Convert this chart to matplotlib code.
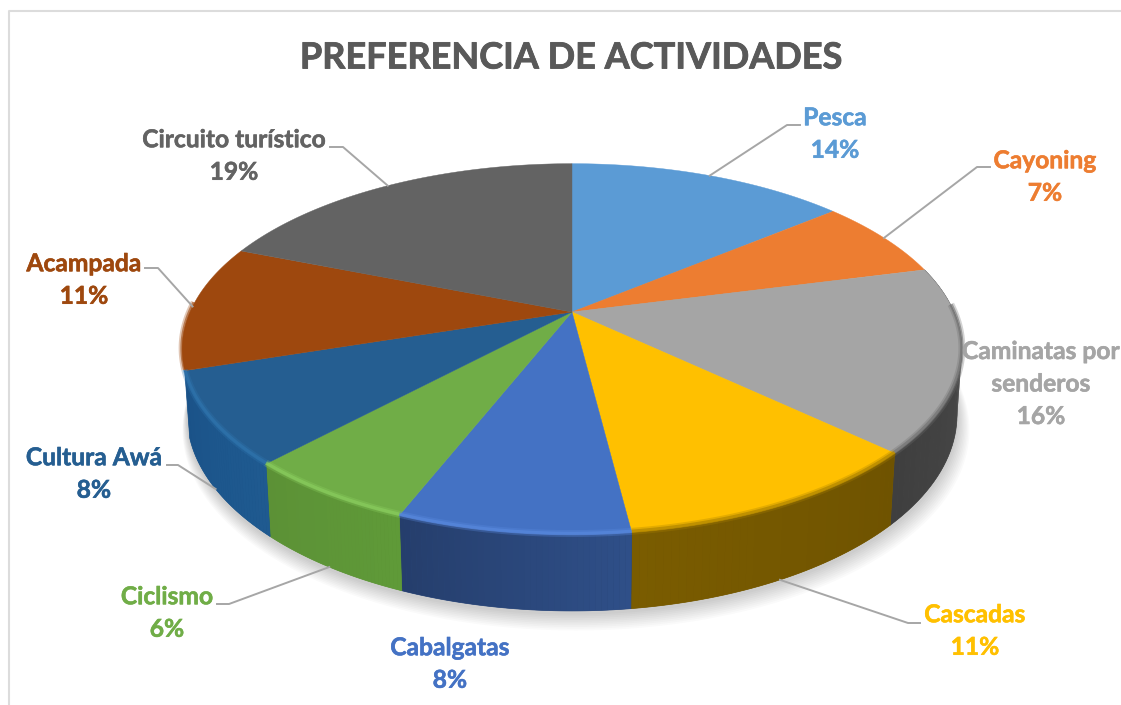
# -*- coding: utf-8 -*-
import numpy as np
import matplotlib
matplotlib.use('Agg')
import matplotlib.pyplot as plt
import matplotlib.patheffects as pe
from matplotlib.colors import to_rgb

# chart data, clockwise from 12 o'clock
activities = ['Pesca', 'Cayoning', 'Caminatas por\nsenderos', 'Cascadas', 'Cabalgatas',
              'Ciclismo', 'Cultura Awá', 'Acampada', 'Circuito turístico']
shares = [14, 7, 16, 11, 8, 6, 8, 11, 19]

top_colors = ['#5B9BD5', '#ED7D31', '#A5A5A5', '#FFC000', '#4472C4',
              '#70AD47', '#255E91', '#9E480E', '#636363']
rim_start = ['#3D6A92', '#A05520', '#4E4E4E', '#6F5300', '#2F4F88',
             '#5F9A38', '#1F5A90', '#6E3209', '#444444']
rim_end = ['#3D6A92', '#A05520', '#3F3F3F', '#7A5C00', '#253E6C',
           '#5C9136', '#1A5288', '#6E3209', '#444444']
edge_light = ['#5B9BD5', '#ED7D31', '#6E6E6E', '#A87F00', '#5A8AE0',
              '#8CD060', '#2F76B0', '#9E480E', '#636363']

# pie projection in pixels
cx, cy = 572, 312
rx, ry = 382, 178
persp = 0.2
depth = 64

# label position (pixels, centre of text), then leader elbow as (end, elbow)
label_xy = [(835, 134), (1045, 177), (1041, 384), (975, 631), (450, 664),
            (167, 613), (94, 474), (84, 280), (234, 156)]
leader_ends = [(800, 125), (990, 167), None, (920, 623), None,
               (217, 604), (167, 465), (145, 268), (330, 147)]
leader_elbows = [(787, 125), (977, 167), None, (908, 623), None,
                 (229, 604), (178, 465), (158, 268), (343, 147)]


def project(theta, z=0.0):
    # wall draws in a little towards its lower edge
    r = 1 - 0.012 * z
    u = r * np.sin(theta)
    v = r * np.cos(theta)
    w = 1 + persp * v
    return cx + rx * u / w, cy - ry * v / w + z * depth / w


def mix(c1, c2, t):
    a, b = np.array(to_rgb(c1)), np.array(to_rgb(c2))
    return tuple(a + (b - a) * t)


plt.rcParams['font.family'] = ['Lato', 'DejaVu Sans']
fig = plt.figure(figsize=(11.21, 7.05), dpi=100)
ax = fig.add_axes([0, 0, 1, 1])
ax.set_xlim(0, 1121)
ax.set_ylim(705, 0)
ax.axis('off')

# chart frame (only top and left show in the crop)
ax.plot([8.5, 8.5, 1121], [705, 10.5, 10.5], color='#DCDCDC', lw=1.5, zorder=1)

fracs = np.cumsum([0] + shares) / sum(shares)
angles = fracs * 2 * np.pi

# soft shadow under the pie
full = np.linspace(0, 2 * np.pi, 361)
sx, sy = project(full, z=1)
for i in range(10):
    grow = 1 + (10 - i) * 0.0022
    ax.fill(cx + (sx - cx) * grow + (10 - i) * 0.4, cy + 2 + (sy - cy) * grow + (10 - i) * 1.1,
            color='black', alpha=0.018, lw=0, zorder=2)

# side wall: solid base first, thin strips over it for the shading along the rim
for i in range(len(shares)):
    mid = (angles[i] + angles[i + 1]) / 2
    if np.cos(mid) >= 0:
        continue  # back of the pie, hidden
    t = np.linspace(angles[i], angles[i + 1], 41)
    x0, y0 = project(t)
    x1, y1 = project(t, z=1)
    ax.fill(np.r_[x0, x1[::-1]], np.r_[y0, y1[::-1]], color=mix(rim_start[i], rim_end[i], 0.5),
            lw=0.5, zorder=3)
    for j in range(40):
        col = mix(rim_start[i], rim_end[i], j / 39)
        xs = np.r_[x0[j:j + 2], x1[j:j + 2][::-1]]
        ys = np.r_[y0[j:j + 2], y1[j:j + 2][::-1]]
        ax.fill(xs, ys, color=col, lw=0, zorder=3)

# top face
for i in range(len(shares)):
    t = np.linspace(angles[i], angles[i + 1], 81)
    x, y = project(t)
    ax.fill(np.r_[cx, x], np.r_[cy, y], color=top_colors[i], lw=0.3, zorder=4)

# bevel along the front edge
for i in range(len(shares)):
    t = np.linspace(angles[i], angles[i + 1], 81)
    t = t[np.cos(t) < 0.05]
    if len(t) < 2:
        continue
    x, y = project(t)
    ax.plot(x, y - 1, color=edge_light[i], lw=5, alpha=0.3, zorder=5, solid_capstyle='butt')
    ax.plot(x, y - 1, color=edge_light[i], lw=2.5, alpha=0.6, zorder=5, solid_capstyle='butt')

# labels and leader lines
for i, name in enumerate(activities):
    ax.text(label_xy[i][0], label_xy[i][1], f'{name}\n{shares[i]}%', color=top_colors[i],
            fontsize=17.7, fontweight='bold', ha='center', va='center', linespacing=1.5, zorder=7,
            path_effects=[pe.withStroke(linewidth=0.4, foreground=top_colors[i])])
    if leader_ends[i] is None:
        continue
    mid = (angles[i] + angles[i + 1]) / 2
    on_wall = np.cos(mid) < -0.4
    ax_x, ax_y = project(mid, z=1 if on_wall else 0)
    ax.plot([leader_ends[i][0], leader_elbows[i][0], ax_x], [leader_ends[i][1], leader_elbows[i][1], ax_y],
            color='#A6A6A6', lw=1.4, zorder=6)

ax.text(571, 58, 'PREFERENCIA DE ACTIVIDADES', color='#595959', fontsize=26, fontweight='bold',
        ha='center', va='center', zorder=7,
        path_effects=[pe.withStroke(linewidth=0.6, foreground='#595959')])

fig.savefig('out.png', dpi=100)
